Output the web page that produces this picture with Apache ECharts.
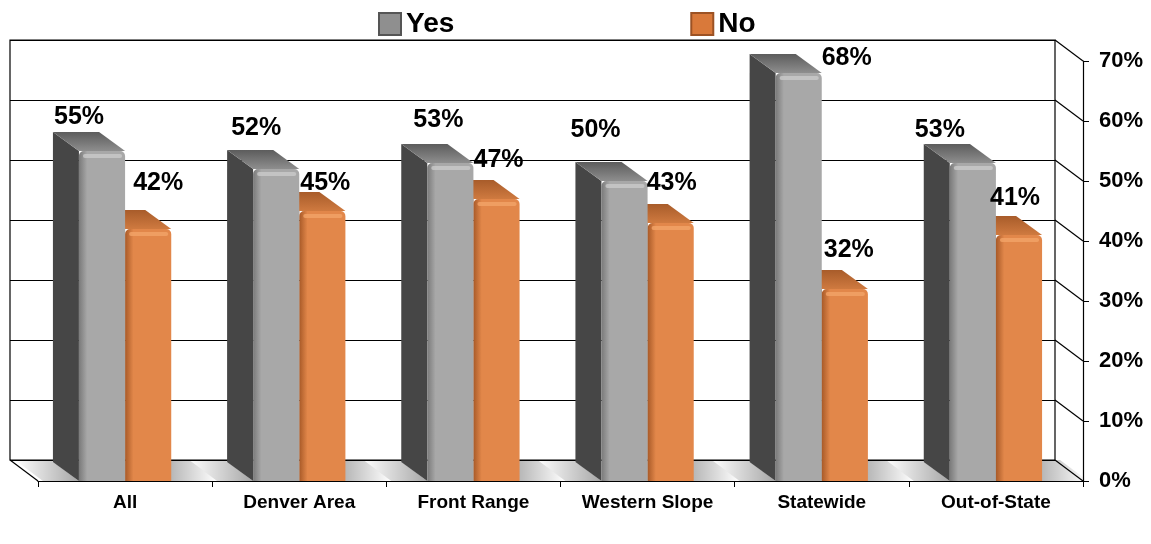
<!DOCTYPE html>
<html>
<head>
<meta charset="utf-8">
<script src="https://cdn.jsdelivr.net/npm/echarts@6/dist/echarts.min.js"></script>
<style>html,body{margin:0;padding:0;background:#fff;}#c{width:1151px;height:544px;}</style>
</head>
<body>
<div id="c"></div>
<script>
// ---- data ----
const categories = ['All', 'Denver Area', 'Front Range', 'Western Slope', 'Statewide', 'Out-of-State'];
const yesValues = [55, 52, 53, 50, 68, 53];
const noValues = [42, 45, 47, 43, 32, 41];
const yTicks = [0, 10, 20, 30, 40, 50, 60, 70];

// ---- styling (label nudges in px, relative to bar front-top centre) ----
const yesLabelNudge = [[-23, -34], [-20, -41], [-12, -43], [-29, -51], [48, -15], [-33, -33]];
const noLabelNudge = [[10, -46], [3, -28], [2, -39], [1, -40], [4, -39], [-4, -37]];
const FONT = "'Liberation Sans', Arial, Helvetica, sans-serif";
const WALL = { dx: 28, dy: 21 };
const BAR = { dx: 26, dy: 19, frac: 0.265 };
const FRONT = { left: 38, right: 68, top: 61, bottom: 63 };

const palettes = {
  yes: { front: '#a8a8a8', frontDark: '#7a7a7a', hi: '#c9c9c9', side: '#464646', topBack: '#5c5c5c', topFront: '#8e8e8e' },
  no: { front: '#e2874a', frontDark: '#a85a28', hi: '#f2a468', side: '#9c5224', topBack: '#a85c2a', topFront: '#cf7a40' }
};

function barGeom(api, sideSign) {
  const i = api.value(0), v = api.value(1);
  const top = api.coord([i, v]);
  const base = api.coord([i, 0]);
  const band = api.size([1, 0])[0];
  const w = band * BAR.frac;
  const cx = top[0] + sideSign * w / 2;
  return { i: i, w: w, cx: cx, x0: cx - w / 2, x1: cx + w / 2, yt: top[1], yb: base[1] };
}

function barRenderer(sideSign, pal) {
  return function (params, api) {
    const g = barGeom(api, sideSign);
    const x0 = g.x0, x1 = g.x1, yt = g.yt, yb = g.yb, w = g.w;
    const dx = BAR.dx, dy = BAR.dy;
    return {
      type: 'group',
      children: [
        {
          type: 'polygon',
          shape: { points: [[x0, yt], [x0 - dx, yt - dy], [x0 - dx, yb - dy], [x0, yb]] },
          style: { fill: pal.side }
        },
        {
          type: 'polygon',
          shape: { points: [[x0, yt], [x1, yt], [x1 - dx, yt - dy], [x0 - dx, yt - dy]] },
          style: {
            fill: new echarts.graphic.LinearGradient(0, 0, 0, 1, [
              { offset: 0, color: pal.topBack }, { offset: 1, color: pal.topFront }
            ])
          }
        },
        {
          type: 'rect',
          shape: { x: x0, y: yt, width: w, height: yb - yt, r: [5, 5, 0, 0] },
          style: {
            fill: new echarts.graphic.LinearGradient(0, 0, 1, 0, [
              { offset: 0, color: pal.frontDark }, { offset: 0.18, color: pal.front }, { offset: 1, color: pal.front }
            ])
          }
        },
        {
          type: 'rect',
          shape: { x: x0 + 4, y: yt + 3, width: w - 7, height: 4, r: 2 },
          style: { fill: pal.hi, opacity: 0.8 }
        }
      ]
    };
  };
}

function labelRenderer(sideSign, nudges, values) {
  return function (params, api) {
    const g = barGeom(api, sideSign);
    const nd = nudges[g.i];
    return {
      type: 'text',
      x: g.cx + nd[0], y: g.yt + nd[1],
      style: {
        text: values[g.i] + '%', fill: '#000', font: 'bold 25px ' + FONT,
        align: 'center', verticalAlign: 'middle'
      }
    };
  };
}

function shadowRenderer(params, api) {
  const i = api.value(0);
  const base = api.coord([i, 0]);
  const band = api.size([1, 0])[0];
  const w = band * BAR.frac;
  const yb = base[1];
  const xr = base[0] + w;
  const xl = base[0] - w;
  const dx = WALL.dx, dy = WALL.dy;
  return {
    type: 'group',
    children: [
      {
        type: 'polygon',
        shape: { points: [[xr, yb], [xr + 46, yb], [xr + 46 - dx, yb - dy], [xr - dx, yb - dy]] },
        style: {
          fill: new echarts.graphic.LinearGradient(0, 0, 1, 0, [
            { offset: 0, color: 'rgba(0,0,0,0.45)' }, { offset: 1, color: 'rgba(0,0,0,0)' }
          ])
        }
      },
      {
        type: 'polygon',
        shape: { points: [[xl - 36, yb], [xl, yb], [xl - dx, yb - dy], [xl - 36 - dx, yb - dy]] },
        style: {
          fill: new echarts.graphic.LinearGradient(0, 0, 1, 0, [
            { offset: 0, color: 'rgba(0,0,0,0)' }, { offset: 1, color: 'rgba(0,0,0,0.35)' }
          ])
        }
      }
    ]
  };
}

function wallRenderer(params, api) {
  const v = api.value(1);
  const cs = params.coordSys;
  const y = api.coord([0, v])[1];
  const xr = cs.x + cs.width;
  const children = [{
    type: 'line',
    shape: { x1: xr, y1: y, x2: xr - WALL.dx, y2: y - WALL.dy },
    style: { stroke: '#000', lineWidth: 1.2 }
  }];
  if (v === 0) {
    children.push({
      type: 'line',
      shape: { x1: cs.x, y1: y, x2: cs.x - WALL.dx, y2: y - WALL.dy },
      style: { stroke: '#000', lineWidth: 1.2 }
    });
  }
  return { type: 'group', children: children };
}

const chart = echarts.init(document.getElementById('c'), null, { renderer: 'canvas' });
chart.setOption({
  backgroundColor: '#fff',
  animation: false,
  legend: {
    data: ['Yes', 'No'],
    left: 378, top: 10, padding: 0,
    icon: 'rect',
    itemWidth: 22, itemHeight: 22, itemGap: 236,
    textStyle: { fontFamily: FONT, fontWeight: 'bold', fontSize: 28, color: '#000', padding: [0, 0, 0, 0] }
  },
  grid: [
    { left: FRONT.left, right: FRONT.right, top: FRONT.top, bottom: FRONT.bottom },
    {
      left: FRONT.left - WALL.dx, right: FRONT.right + WALL.dx,
      top: FRONT.top - WALL.dy, bottom: FRONT.bottom + WALL.dy,
      show: true, borderColor: '#000', borderWidth: 1.2, backgroundColor: 'transparent', z: 0
    }
  ],
  xAxis: [
    {
      type: 'category', gridIndex: 0, data: categories,
      axisLine: { lineStyle: { color: '#000', width: 1.2 } },
      axisTick: { show: true, length: 6, lineStyle: { color: '#000' } },
      axisLabel: { color: '#000', fontFamily: FONT, fontWeight: 'bold', fontSize: 19, margin: 12, interval: 0 },
      splitLine: { show: false }
    },
    { type: 'category', gridIndex: 1, data: categories, show: false }
  ],
  yAxis: [
    {
      type: 'value', gridIndex: 0, position: 'right', min: 0, max: 70, interval: 10,
      axisLine: { show: true, lineStyle: { color: '#000', width: 1.2 } },
      axisTick: { show: true, length: 6, lineStyle: { color: '#000' } },
      axisLabel: { formatter: '{value}%', color: '#000', fontFamily: FONT, fontWeight: 'bold', fontSize: 22, margin: 16 },
      splitLine: { show: false }
    },
    {
      type: 'value', gridIndex: 1, min: 0, max: 70, interval: 10,
      axisLine: { show: false }, axisTick: { show: false }, axisLabel: { show: false },
      splitLine: { show: true, lineStyle: { color: '#000', width: 1.2 } }
    }
  ],
  series: [
    {
      type: 'custom', name: 'wall', xAxisIndex: 0, yAxisIndex: 0, z: 1, silent: true,
      data: yTicks.map(v => [0, v]), encode: { x: 0, y: 1 },
      renderItem: wallRenderer
    },
    {
      type: 'custom', name: 'shadow', xAxisIndex: 0, yAxisIndex: 0, z: 2, silent: true,
      data: categories.map((c, i) => [i, 0]), encode: { x: 0, y: 1 },
      renderItem: shadowRenderer
    },
    {
      type: 'custom', name: 'No', xAxisIndex: 0, yAxisIndex: 0, z: 3,
      itemStyle: { color: '#d9793a', borderColor: '#9c5224', borderWidth: 2 },
      data: noValues.map((v, i) => [i, v]), encode: { x: 0, y: 1 },
      renderItem: barRenderer(1, palettes.no)
    },
    {
      type: 'custom', name: 'Yes', xAxisIndex: 0, yAxisIndex: 0, z: 4,
      itemStyle: { color: '#8f8f8f', borderColor: '#555', borderWidth: 2 },
      data: yesValues.map((v, i) => [i, v]), encode: { x: 0, y: 1 },
      renderItem: barRenderer(-1, palettes.yes)
    },
    {
      type: 'custom', name: 'noLabels', xAxisIndex: 0, yAxisIndex: 0, z: 10, silent: true,
      data: noValues.map((v, i) => [i, v]), encode: { x: 0, y: 1 },
      renderItem: labelRenderer(1, noLabelNudge, noValues)
    },
    {
      type: 'custom', name: 'yesLabels', xAxisIndex: 0, yAxisIndex: 0, z: 10, silent: true,
      data: yesValues.map((v, i) => [i, v]), encode: { x: 0, y: 1 },
      renderItem: labelRenderer(-1, yesLabelNudge, yesValues)
    }
  ]
});
</script>
</body>
</html>
